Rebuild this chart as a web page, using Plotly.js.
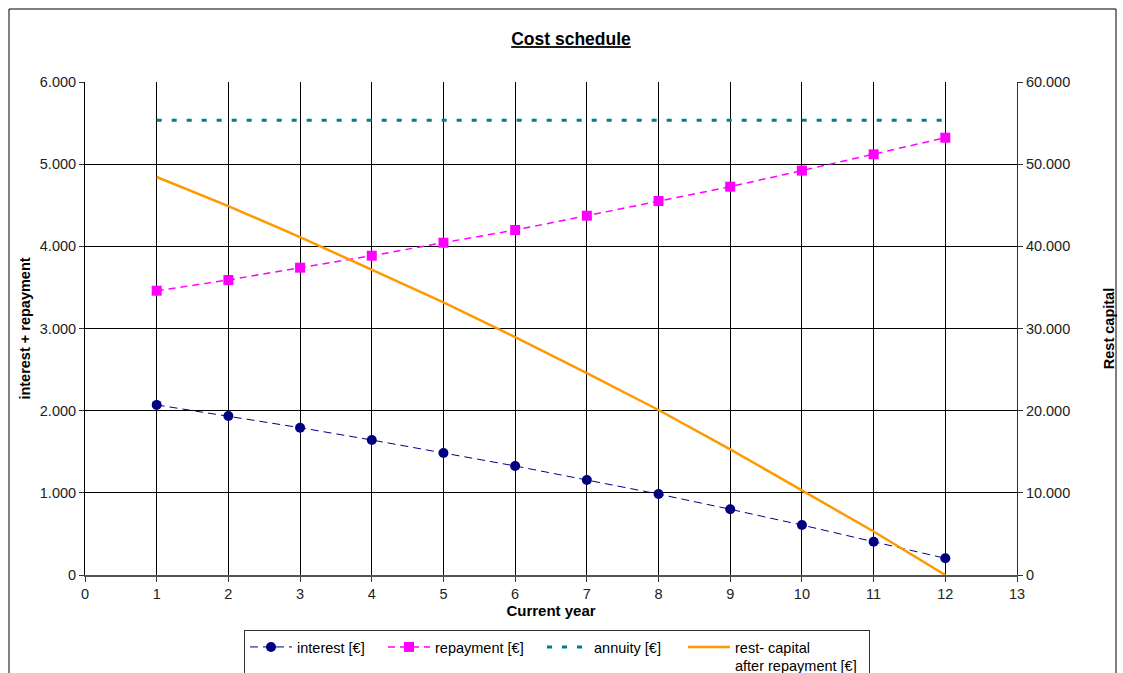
<!DOCTYPE html>
<html>
<head>
<meta charset="utf-8">
<script src="https://cdn.plot.ly/plotly-3.0.1.min.js"></script>
<style>html,body{margin:0;padding:0;background:#fff;}#chart{width:1123px;height:673px;}</style>
</head>
<body>
<div id="chart"></div>
<script>
// ---- data ----
const years = [1, 2, 3, 4, 5, 6, 7, 8, 9, 10, 11, 12];
const interest = [2070, 1935, 1793, 1643, 1485, 1327, 1156, 985, 800, 608, 405, 203];
const repayment = [3460, 3590, 3740, 3886, 4044, 4199, 4373, 4552, 4726, 4922, 5120, 5322];
const annuity = [5534, 5534, 5534, 5534, 5534, 5534, 5534, 5534, 5534, 5534, 5534, 5534];
const restCapital = [48440, 44900, 41120, 37180, 33180, 28950, 24580, 20080, 15300, 10300, 5290, 0];
const seriesNames = ['interest [€]', 'repayment [€]', 'annuity [€]', 'rest- capital<br>after repayment [€]'];

const FONT = 'Liberation Sans, Arial, sans-serif';
const TICKFONT = {family: FONT, size: 14.5, color: '#222'};

const traces = [
  {x: years, y: interest, name: seriesNames[0], type: 'scatter', mode: 'lines+markers',
   line: {color: '#000080', width: 1, dash: '8px,5px'},
   marker: {color: '#000080', symbol: 'circle', size: 10}, legendwidth: 81},
  {x: years, y: repayment, name: seriesNames[1], type: 'scatter', mode: 'lines+markers',
   line: {color: '#FF00FF', width: 1.5, dash: '7px,5px'},
   marker: {color: '#FF00FF', symbol: 'square', size: 10}, legendwidth: 102},
  {x: years, y: annuity, name: seriesNames[2], type: 'scatter', mode: 'lines',
   line: {color: '#008080', width: 3, dash: '5px,10px'}, legendwidth: 84},
  {x: years, y: restCapital, name: seriesNames[3], type: 'scatter', mode: 'lines', yaxis: 'y2',
   line: {color: '#FF9900', width: 2.5}, legendwidth: 129}
];

const layout = {
  width: 1123, height: 673,
  margin: {l: 85, r: 106, t: 82, b: 98, autoexpand: false},
  paper_bgcolor: '#fff', plot_bgcolor: '#fff',
  separators: ',.',
  font: {family: FONT, size: 12, color: '#111'},
  showlegend: true,
  hovermode: false,
  title: {
    text: 'Cost schedule',
    font: {family: FONT, size: 17.5, color: '#000', weight: 'bold', lineposition: 'under'},
    xref: 'container', yref: 'container',
    x: 571 / 1123, xanchor: 'center',
    y: 1 - 39 / 673, yanchor: 'middle'
  },
  xaxis: {
    range: [0, 13], dtick: 1, tick0: 0,
    showgrid: true, gridcolor: '#000', gridwidth: 1,
    showline: true, linecolor: '#555', linewidth: 2,
    ticks: 'outside', ticklen: 5, tickcolor: '#333',
    zeroline: false,
    tickfont: TICKFONT,
    title: {text: 'Current year', font: {family: FONT, size: 15, color: '#000', weight: 'bold'}, standoff: 2}
  },
  yaxis: {
    range: [0, 6000], dtick: 1000, tick0: 0, tickformat: ',d',
    showgrid: true, gridcolor: '#000', gridwidth: 1,
    showline: true, linecolor: '#000', linewidth: 1,
    ticks: 'outside', ticklen: 5, tickcolor: '#333',
    zeroline: false,
    tickfont: TICKFONT,
    title: {text: 'interest + repayment', font: {family: FONT, size: 14.5, color: '#000', weight: 'bold'}, standoff: 5}
  },
  yaxis2: {
    range: [0, 60000], dtick: 10000, tick0: 0, tickformat: ',d',
    overlaying: 'y', side: 'right',
    showgrid: false,
    showline: true, linecolor: '#333', linewidth: 1,
    ticks: 'outside', ticklen: 5, tickcolor: '#333',
    zeroline: false,
    tickfont: TICKFONT,
    title: {text: 'Rest capital', font: {family: FONT, size: 14.5, color: '#000', weight: 'bold'}, standoff: 34}
  },
  legend: {
    orientation: 'h',
    x: (244 - 85) / 932, xanchor: 'left',
    y: (575 - 630) / 493, yanchor: 'top',
    bordercolor: '#333', borderwidth: 1, bgcolor: '#fff',
    font: {family: FONT, size: 14.5, color: '#000'},
    valign: 'top',
    itemwidth: 42,
    traceorder: 'normal'
  },
  shapes: [
    {type: 'rect', xref: 'paper', yref: 'paper',
     x0: (9 - 85) / 932, x1: (1116 - 85) / 932,
     y0: (575 - 700) / 493, y1: (575 - 9) / 493,
     line: {color: '#000', width: 1}, fillcolor: 'rgba(0,0,0,0)', layer: 'below'}
  ]
};

Plotly.newPlot('chart', traces, layout, {displayModeBar: false, staticPlot: true});
</script>
</body>
</html>
